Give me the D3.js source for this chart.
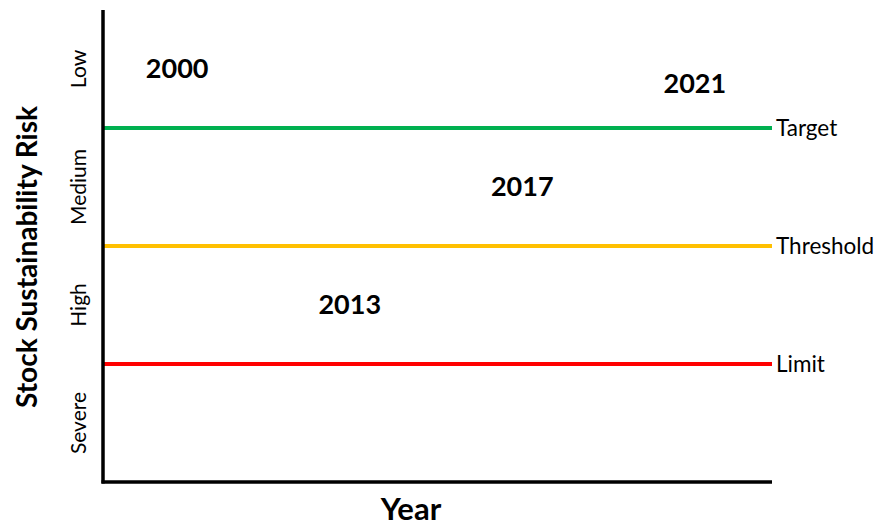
<!DOCTYPE html>
<html><head><meta charset="utf-8">
<script src="https://cdn.jsdelivr.net/npm/d3@7"></script>
<style>body{margin:0;background:#fff}svg{display:block}text{font-family:Lato,"Open Sans",sans-serif}</style>
</head><body><svg id="c" width="875" height="526"></svg>
<script>
const riskCategories = ["Low", "Medium", "High", "Severe"];
const refNames = ["Target", "Threshold", "Limit"];
const refValues = [3, 2, 1];
const refColors = ["#00b050", "#ffc000", "#ff0000"];
const years = ["2000", "2013", "2017", "2021"];
const yearRisk = [3.5, 1.5, 2.5, 3.38];
const yearSlot = ["2000", "2013", "2017", "2021"];

const svg = d3.select("#c");
const m = {left: 103, right: 772, top: 10, bottom: 482};
const y = d3.scaleLinear().domain([0, 4]).range([m.bottom, m.top]);
const yBand = d3.scaleBand().domain(riskCategories).range([m.top, m.bottom]);
const x = d3.scalePoint().domain(yearSlot).range([m.left, m.right - 3]).padding(0.43);

// reference lines
refNames.forEach((n, i) => {
  svg.append("line").attr("x1", m.left).attr("x2", m.right)
    .attr("y1", y(refValues[i])).attr("y2", y(refValues[i]))
    .attr("stroke", refColors[i]).attr("stroke-width", 4);
  svg.append("text").attr("x", m.right + 4).attr("y", y(refValues[i]))
    .attr("dy", "0.35em").attr("font-size", 22.5).attr("fill", "#000").text(n);
});

// axes
svg.append("line").attr("x1", m.left).attr("x2", m.left).attr("y1", m.top).attr("y2", m.bottom + 1.5)
  .attr("stroke", "#000").attr("stroke-width", 3.5);
svg.append("line").attr("x1", m.left - 1.5).attr("x2", m.right).attr("y1", m.bottom).attr("y2", m.bottom)
  .attr("stroke", "#000").attr("stroke-width", 3.5);

// category labels
riskCategories.forEach(c => {
  const cy = yBand(c) + yBand.bandwidth() / 2;
  svg.append("text").attr("transform", `translate(79,${cy}) rotate(-90)`)
    .attr("text-anchor", "middle").attr("dy", "0.35em").attr("font-size", 21).text(c);
});

// year labels
years.forEach((yr, i) => {
  svg.append("text").attr("x", x(yr)).attr("y", y(yearRisk[i])).attr("dy", "0.35em")
    .attr("text-anchor", "middle").attr("font-size", 27).attr("font-weight", "bold").text(yr);
});

svg.append("text").attr("transform", `translate(27,${(m.top + m.bottom) / 2 + 11}) rotate(-90)`)
  .attr("text-anchor", "middle").attr("dy", "0.35em").attr("font-size", 28).attr("font-weight", "bold")
  .text("Stock Sustainability Risk");
svg.append("text").attr("x", 411).attr("y", 520).attr("text-anchor", "middle")
  .attr("font-size", 31).attr("font-weight", "bold").text("Year");
</script></body></html>
